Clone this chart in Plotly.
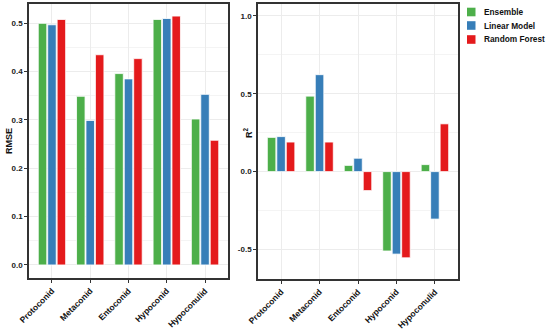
import plotly.graph_objects as go

categories = ["Protoconid", "Metaconid", "Entoconid", "Hypoconid", "Hypoconulid"]
models = ["Ensemble", "Linear Model", "Random Forest"]
colors = ["#4daf4a", "#377eb8", "#e41a1c"]

rmse_ensemble = [0.500, 0.349, 0.396, 0.508, 0.302]
rmse_linear = [0.497, 0.299, 0.385, 0.510, 0.353]
rmse_rf = [0.508, 0.435, 0.427, 0.515, 0.258]

r2_ensemble = [0.220, 0.485, 0.040, -0.510, 0.045]
r2_linear = [0.225, 0.623, 0.086, -0.530, -0.305]
r2_rf = [0.190, 0.190, -0.122, -0.554, 0.307]

rmse_vals = [rmse_ensemble, rmse_linear, rmse_rf]
r2_vals = [r2_ensemble, r2_linear, r2_rf]

FONT = "Liberation Sans"
W, H = 550, 330
def px(x): return x / W
def py(y): return 1 - y / H

fig = go.Figure()
for i, m in enumerate(models):
    fig.add_trace(go.Bar(x=categories, y=rmse_vals[i], name=m, marker_color=colors[i],
                         marker_line=dict(color="white", width=0.8),
                         xaxis="x", yaxis="y", showlegend=False, offsetgroup=str(i)))
    fig.add_trace(go.Bar(x=categories, y=r2_vals[i], name=m, marker_color=colors[i],
                         marker_line=dict(color="white", width=0.8),
                         xaxis="x2", yaxis="y2", showlegend=False, offsetgroup=str(i)))

xfont = dict(family=FONT, size=8.5, color="#111111", weight="bold")
yfont = dict(family=FONT, size=8, color="#222222", weight="bold")
common_x = dict(type="category", range=[-0.6, 4.6], tickangle=-45, tickfont=xfont, automargin=False,
                showgrid=True, gridcolor="#ececec", gridwidth=0.6, showline=True, mirror=True,
                linecolor="#333333", linewidth=1.5, ticks="outside", ticklen=3, tickcolor="#333333",
                zeroline=False, categoryorder="array", categoryarray=categories)
common_y = dict(showgrid=True, gridcolor="#ececec", gridwidth=0.6, showline=True, mirror=True,
                linecolor="#333333", linewidth=1.5, ticks="outside", ticklen=3, tickcolor="#333333",
                zeroline=False, tickfont=yfont, automargin=False)

fig.update_layout(
    width=W, height=H, margin=dict(l=0, r=0, t=0, b=0),
    paper_bgcolor="white", plot_bgcolor="white",
    barmode="group", bargap=0.26, bargroupgap=0.1,
    xaxis=dict(domain=[px(29), px(228)], anchor="y", **common_x),
    yaxis=dict(domain=[py(278), py(4)], anchor="x", range=[-0.027, 0.54],
               tickvals=[0, 0.1, 0.2, 0.3, 0.4, 0.5],
               ticktext=["0.0", "0.1", "0.2", "0.3", "0.4", "0.5"],
               minor=dict(showgrid=True, gridcolor="#f4f4f4", gridwidth=0.5, dtick=0.05, tick0=0.05),
               **common_y),
    xaxis2=dict(domain=[px(258), px(458)], anchor="y2", **common_x),
    yaxis2=dict(domain=[py(279), py(4)], anchor="x2", range=[-0.69, 1.077],
                tickvals=[-0.5, 0, 0.5, 1.0], ticktext=["-0.5", "0.0", "0.5", "1.0"],
                minor=dict(showgrid=True, gridcolor="#f4f4f4", gridwidth=0.5, dtick=0.25, tick0=0.25),
                **common_y),
    font=dict(family=FONT),
    hovermode=False,
)

# axis titles
fig.add_annotation(text="<b>RMSE</b>", xref="paper", yref="paper", x=px(9), y=py(141),
                   textangle=-90, showarrow=False, xanchor="center", yanchor="middle",
                   font=dict(family=FONT, size=9, color="#111111"))
fig.add_annotation(text="<b>R<sup>2</sup></b>", xref="paper", yref="paper", x=px(248), y=py(133),
                   textangle=-90, showarrow=False, xanchor="center", yanchor="middle",
                   font=dict(family=FONT, size=9, color="#111111"))

# custom legend
ys = [12, 25.5, 39.5]
for i, m in enumerate(models):
    fig.add_shape(type="rect", xref="paper", yref="paper",
                  x0=px(467), x1=px(475.5), y0=py(ys[i] + 4.3), y1=py(ys[i] - 4.3),
                  fillcolor=colors[i], line=dict(width=0))
    fig.add_annotation(text="<b>" + m + "</b>", xref="paper", yref="paper", x=px(482), y=py(ys[i]),
                       xanchor="left", yanchor="middle", showarrow=False,
                       font=dict(family=FONT, size=8.3, color="#111111"))

fig.write_html("out.html", config={"displayModeBar": False},
               post_script="document.body.style.margin='0';document.body.style.overflow='hidden';")
